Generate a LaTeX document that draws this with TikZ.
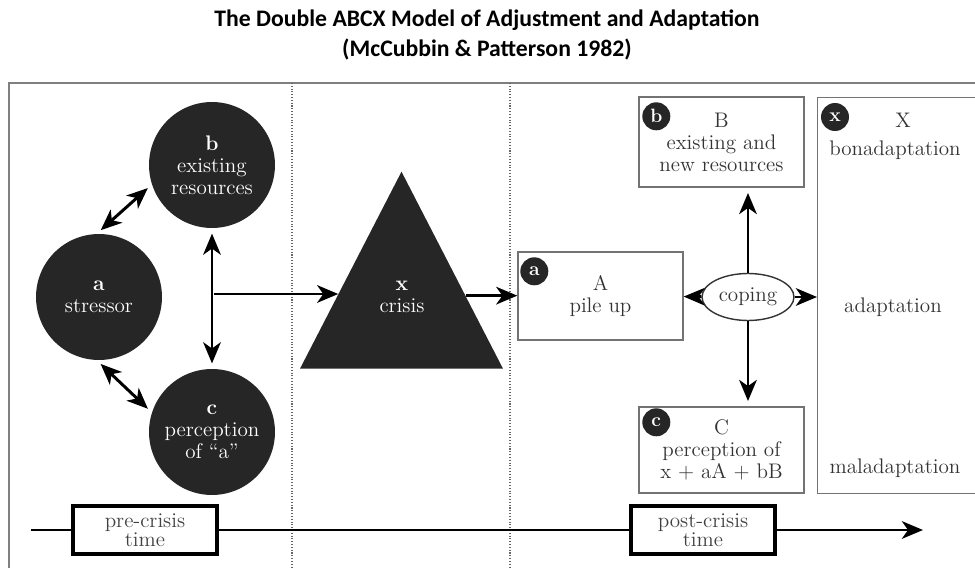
\documentclass[tikz,border=0pt]{standalone}
\usepackage{fontspec}
\newfontfamily\titlefont{Carlito}
\usetikzlibrary{arrows.meta,positioning,calc,shapes.geometric}

\begin{document}
\begin{tikzpicture}[x=0.02cm,y=-0.02cm,>={Stealth[length=12pt,width=10pt,inset=3.5pt]},
    every node/.style={font=\fontsize{12}{12.5}\selectfont,align=center},
    factor/.style={circle,fill=black!85,text=white,minimum size=2.52cm,inner sep=0pt},
    badge/.style={circle,fill=black!85,text=white,minimum size=0.56cm,inner sep=0pt,
        font=\fontsize{11}{11}\selectfont\bfseries},
    result/.style={draw=black!55,line width=0.8pt,minimum width=3.3cm,text=black!80},
    timebox/.style={draw,line width=1.8pt,minimum width=2.88cm,minimum height=0.96cm,
        inner sep=1pt,text=black!75,font=\fontsize{12}{11}\selectfont},
    link/.style={line width=1.7pt}]
    \clip (0,0) rectangle (975,568);
    \node[font=\titlefont\bfseries\fontsize{13.5}{17}\selectfont] (title) at (487,35)
        {The Double ABCX Model of Adjustment and Adaptation\\(McCubbin \& Patterson 1982)};
    % frame and time zones
    \draw[black!50,line width=1.2pt] (9,590) -- (9,83) -- (990,83);
    \draw[black!60,densely dotted,line width=0.6pt] (292,83) -- (292,570);
    \draw[black!60,densely dotted,line width=0.6pt] (510,83) -- (510,570);
    % pre-crisis
    \node[factor] (a) at (99,297) {\textbf{a}\\stressor};
    \node[factor] (b) at (212,165) {\textbf{b}\\existing\\resources};
    \node[factor] (c) at (212,432) {\textbf{c}\\perception\\of “a”};
    \draw[link,<->,shorten <=3pt,shorten >=3pt] (a.92) -- (b.198);
    \draw[link,<->,shorten <=3pt,shorten >=3pt] (a.268) -- (c.162);
    \draw[link,<->,shorten <=3pt,shorten >=3pt] (b) -- (c);
    % crisis
    \node[isosceles triangle,isosceles triangle stretches,shape border rotate=90,
        minimum width=4.06cm,minimum height=3.94cm,inner sep=0pt,fill=black!85,
        anchor=lower side] (crisis) at (401.5,369) {};
    \node[text=white] (crisislbl) at (402,297) {\textbf{x}\\crisis};
    \coordinate (junction) at (214,294);
    \coordinate (crisisin) at ($(crisis.apex)!0.62!(crisis.left corner)$);
    \coordinate (crisisout) at ($(crisis.apex)!0.63!(crisis.right corner)$);
    \draw[link,->] (junction) -- (crisisin |- junction);
    % post-crisis
    \node[result,minimum height=1.76cm] (A) at (600.5,296) {A\\pile up};
    \node[result,minimum height=1.8cm] (B) at (721.5,142) {B\\existing and\\new resources};
    \node[result,minimum height=1.72cm] (C) at (721.5,450) {C\\perception of\\x + aA + bB};
    \node[result,minimum width=4cm,minimum height=7.92cm,anchor=north west] (X) at (817,97) {};
    \node[badge] (Abadge) at ([shift={(17,20)}]A.north west) {a};
    \node[badge] (Bbadge) at ([shift={(18,20)}]B.north west) {b};
    \node[badge] (Cbadge) at ([shift={(18,16)}]C.north west) {c};
    \node[badge] (Xbadge) at ([shift={(18,20)}]X.north west) {x};
    \node[text=black!80] (Xhead) at (903,120) {X};
    \node[text=black!80] (bona) at (895,150) {bonadaptation};
    \node[text=black!80] (adapt) at (893,307) {adaptation};
    \node[text=black!80] (mala) at (895,468) {maladaptation};
    \node[draw=black!80,line width=0.8pt,ellipse,minimum width=1.84cm,minimum height=0.94cm,
        inner sep=0pt,text=black!80] (coping) at (748,297) {coping};
    \draw[link,->] (crisisout) -- (A.west |- crisisout);
    \draw[link,->] (coping) -- (A);
    \draw[link,->,shorten >=3pt] (coping) -- (coping |- B.south);
    \draw[link,->,shorten >=3pt] (coping) -- (coping |- C.north);
    \draw[link,->] (coping) -- (X.west |- coping);
    % time line
    \node[timebox] (pre) at (145,530) {pre-crisis\\time};
    \node[timebox] (post) at (703,530) {post-crisis\\time};
    \coordinate (tstart) at (31,530);
    \coordinate (tend) at (923,530);
    \draw[link] (tstart) -- (pre);
    \draw[link] (pre) -- (post);
    \draw[link,->] (post) -- (tend);
\end{tikzpicture}
\end{document}
